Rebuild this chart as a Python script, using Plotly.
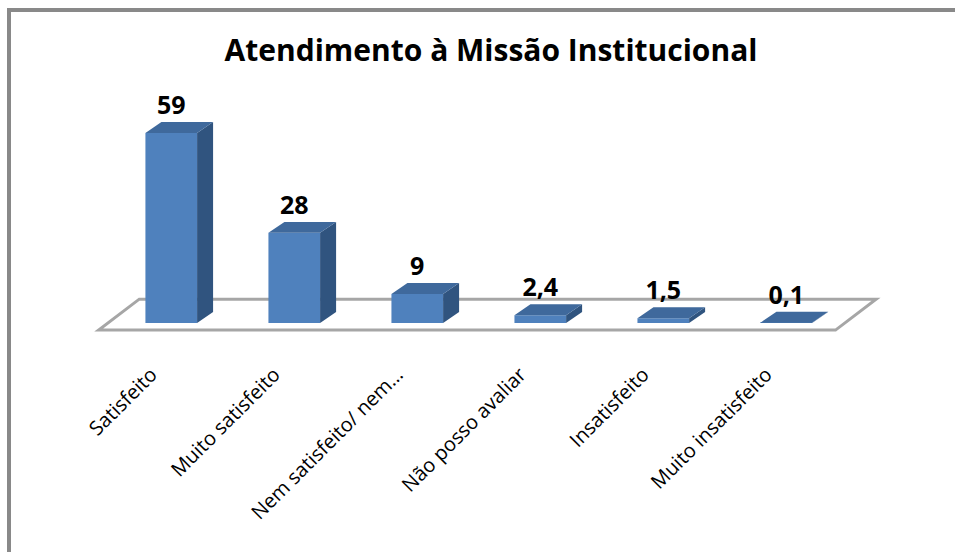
import plotly.graph_objects as go

# ---------------- data ----------------
categories = ["Satisfeito", "Muito satisfeito", "Nem satisfeito/ nem…",
              "Não posso avaliar", "Insatisfeito", "Muito insatisfeito"]
values = [59, 28, 9, 2.4, 1.5, 0.1]
value_labels = [f"{v:g}".replace(".", ",") for v in values]
title_text = "Atendimento à Missão Institucional"

# ---------------- style / geometry ----------------
FRONT = "#4F81BD"
TOP = "#3F699C"
SIDE = "#30547F"
HALF_W = 0.21      # half bar width (x units)
DX, DY = 0.13, 3.4  # 3D depth offset (x units, y units)
FONT = "Open Sans"

n = len(categories)
xs = list(range(n))

# plot-area geometry (px)
L, R, T, B = 79, 58, 100, 194
W_PX, H_PX = 955 - L - R, 552 - T - B
X_RANGE = [-0.75, 5.9]
Y_RANGE = [-10.87, 69.25]


def px_to_paper_x(p):
    return (p - L) / W_PX


def px_to_paper_y(p):
    return (552 - B - p) / H_PX


# side and top faces built from data values
side_x, side_y, top_x, top_y = [], [], [], []
for x, v in zip(xs, values):
    xr = x + HALF_W
    side_x += [xr, xr, xr + DX, xr + DX, xr, None]
    side_y += [0, v, v + DY, DY, 0, None]
    xl = x - HALF_W
    top_x += [xl, xr, xr + DX, xl + DX, xl, None]
    top_y += [v, v, v + DY, v + DY, v, None]

fig = go.Figure()

fig.add_trace(go.Bar(x=xs, y=values, width=2 * HALF_W, marker=dict(color=FRONT, line=dict(width=0)),
                     hoverinfo="skip"))
fig.add_trace(go.Scatter(x=side_x, y=side_y, mode="lines", fill="toself", fillcolor=SIDE,
                         line=dict(width=0, color=SIDE), hoverinfo="skip"))
fig.add_trace(go.Scatter(x=top_x, y=top_y, mode="lines", fill="toself", fillcolor=TOP,
                         line=dict(width=0, color=TOP), hoverinfo="skip"))
fig.add_trace(go.Scatter(x=xs, y=[v + DY + 0.6 for v in values], mode="text", text=value_labels,
                         textposition="top center", cliponaxis=False,
                         textfont=dict(family=FONT, size=25, color="#000000", weight="bold"),
                         hoverinfo="skip"))

# floor (decorative slab under the bars)
fl, fr = -0.59, (n - 1) + 0.40
bshift = 0.33
yf, yb = -2.2, 7.4
floor_path = (f"M {fl} {yf} L {fr} {yf} L {fr + bshift} {yb} "
              f"L {fl + bshift} {yb} Z")

shapes = [
    dict(type="path", path=floor_path, xref="x", yref="y", layer="below",
         fillcolor="#FFFFFF", line=dict(color="#A6A6A6", width=3)),
    # outer chart frame
    dict(type="rect", xref="paper", yref="paper",
         x0=px_to_paper_x(9), x1=px_to_paper_x(975),
         y0=px_to_paper_y(10), y1=px_to_paper_y(580),
         line=dict(color="#898989", width=4), fillcolor="rgba(0,0,0,0)"),
]

fig.update_layout(
    width=955, height=552,
    margin=dict(l=L, r=R, t=T, b=B),
    paper_bgcolor="#FFFFFF", plot_bgcolor="#FFFFFF",
    showlegend=False,
    title=dict(text=title_text, x=491 / 955, xanchor="center", xref="container",
               y=1 - 50 / 552, yanchor="middle", yref="container",
               font=dict(family=FONT, size=30, color="#000000", weight="bold")),
    xaxis=dict(range=X_RANGE, tickvals=xs, ticktext=categories, tickangle=-45,
               tickfont=dict(family=FONT, size=20, color="#000000"),
               ticklabelshift=-20,
               showgrid=False, zeroline=False, showline=False, ticks=""),
    yaxis=dict(range=Y_RANGE, showgrid=False, zeroline=False, showline=False,
               showticklabels=False, ticks=""),
    shapes=shapes,
)

fig.write_html("out.html", config={"displayModeBar": False},
               post_script="document.body.style.margin='0';")
